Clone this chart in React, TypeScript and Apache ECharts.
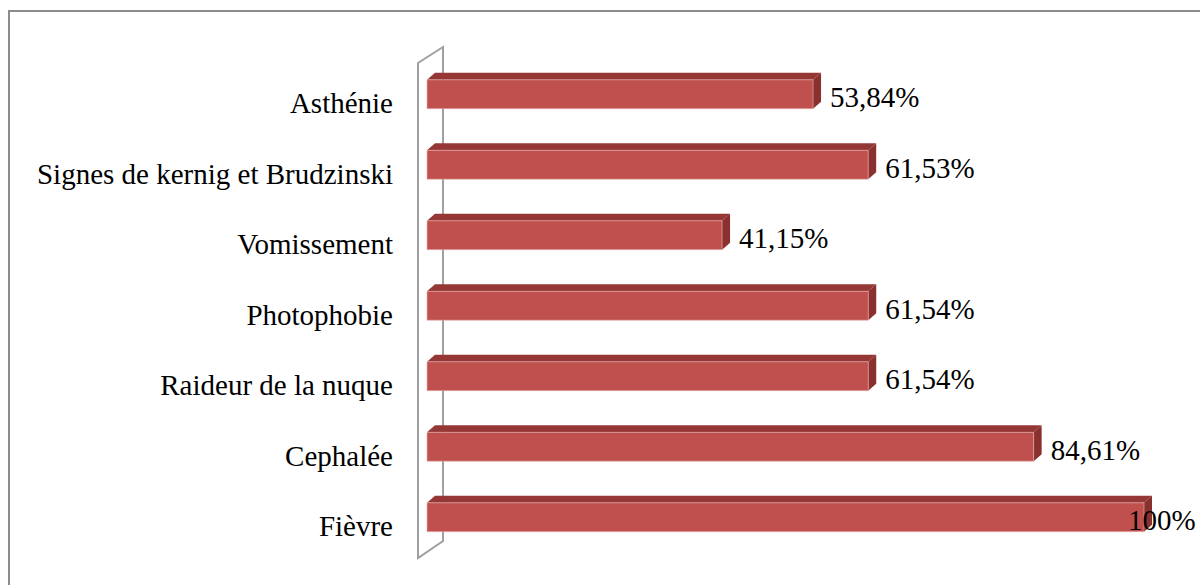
import React, { useEffect, useRef } from "react";
import * as echarts from "echarts";

const categories = [
  "Asthénie",
  "Signes de kernig et Brudzinski",
  "Vomissement",
  "Photophobie",
  "Raideur de la nuque",
  "Cephalée",
  "Fièvre",
];
const values = [53.84, 61.53, 41.15, 61.54, 61.54, 84.61, 100];
const axisMax = 100;

const FONT = "'Liberation Serif', 'Times New Roman', serif";
const FRONT = "#C0504D";
const TOP = "#953735";
const SIDE = "#8A302E";

function fmt(v: number) {
  return Number.isInteger(v) ? `${v}%` : v.toFixed(2).replace(".", ",") + "%";
}

export default function App() {
  const ref = useRef<HTMLDivElement>(null);
  useEffect(() => {
    document.body.style.margin = "0";
    document.body.style.overflow = "hidden";
    const chart = echarts.init(ref.current!, undefined, { renderer: "svg" });
    const dx = 8;
    const dy = 7;
    chart.setOption({
      animation: false,
      backgroundColor: "#ffffff",
      grid: { left: 427, right: 56, top: 59, bottom: 32.5 },
      xAxis: {
        type: "value",
        min: 0,
        max: axisMax,
        show: false,
      },
      yAxis: {
        type: "category",
        inverse: true,
        data: categories,
        axisLine: { show: false },
        axisTick: { show: false },
        splitLine: { show: false },
        axisLabel: { show: false },
      },
      graphic: [
        {
          type: "rect",
          z: -10,
          shape: { x: 9, y: 11, width: 1300, height: 700 },
          style: { fill: "none", stroke: "#8c8c8c", lineWidth: 2 },
        },
        {
          type: "polygon",
          z: -10,
          shape: {
            points: [
              [418, 63],
              [443, 47],
              [443, 541],
              [418, 558],
            ],
          },
          style: { fill: "none", stroke: "#a0a0a0", lineWidth: 2 },
        },
      ],
      series: [
        {
          type: "custom",
          z: 5,
          clip: false,
          encode: { x: 0, y: 1 },
          data: values.map((v, i) => [v, i]),
          renderItem: (params: any, api: any) => {
            const v = api.value(0);
            const idx = api.value(1);
            const start = api.coord([0, idx]);
            const end = api.coord([v, idx]);
            const band = api.size([0, 1])[1];
            const h = band * 0.41;
            const x0 = start[0];
            const x1 = end[0];
            const top = end[1] - h / 2;
            const bot = end[1] + h / 2;
            const full = v >= axisMax;
            return {
              type: "group",
              children: [
                {
                  type: "polygon",
                  shape: {
                    points: [
                      [x0, top],
                      [x0 + dx, top - dy],
                      [x1 + dx, top - dy],
                      [x1, top],
                    ],
                  },
                  style: { fill: TOP },
                },
                {
                  type: "polygon",
                  shape: {
                    points: [
                      [x1, top],
                      [x1 + dx, top - dy],
                      [x1 + dx, bot - dy],
                      [x1, bot],
                    ],
                  },
                  style: { fill: SIDE },
                },
                {
                  type: "rect",
                  shape: { x: x0, y: top, width: x1 - x0, height: h },
                  style: { fill: FRONT, stroke: "#E8B4B3", lineWidth: 0.6 },
                },
                {
                  type: "text",
                  z2: 10,
                  style: {
                    x: x0 - 34,
                    y: end[1] + 9,
                    text: categories[idx],
                    fill: "#000",
                    font: `29px ${FONT}`,
                    align: "right",
                    verticalAlign: "middle",
                  },
                },
                {
                  type: "text",
                  z2: 10,
                  style: {
                    x: full ? x1 - 16 : x1 + 17,
                    y: end[1] + 3,
                    text: fmt(v),
                    fill: "#000",
                    font: `29px ${FONT}`,
                    align: "left",
                    verticalAlign: "middle",
                  },
                },
              ],
            };
          },
        },
      ],
    });
    return () => chart.dispose();
  }, []);
  return <div ref={ref} style={{ width: 1200, height: 585 }} />;
}
